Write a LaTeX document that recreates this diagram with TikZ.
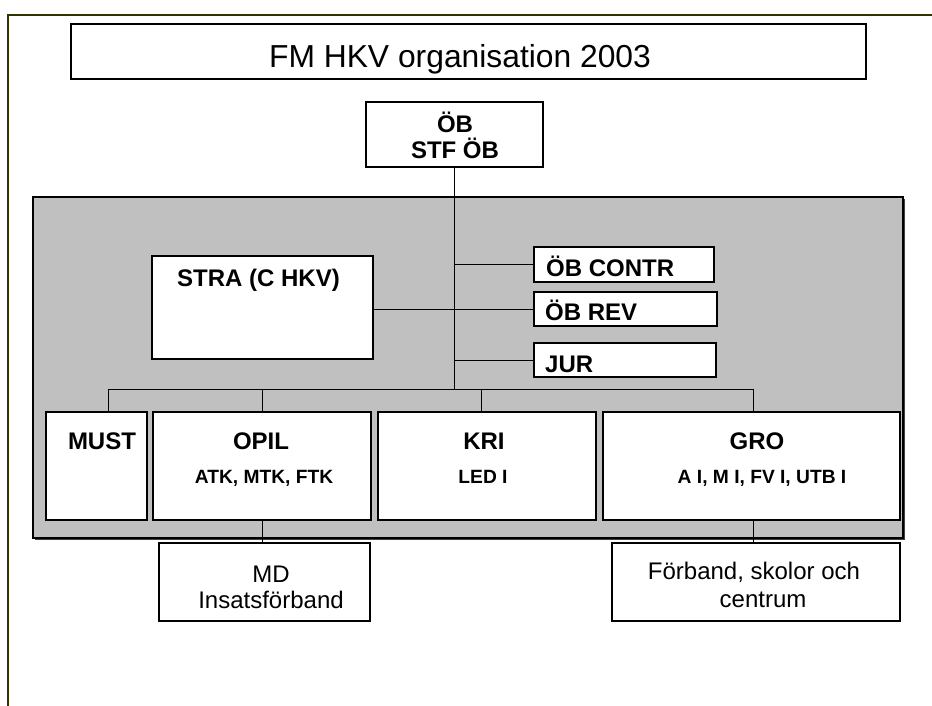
\documentclass[tikz,border=0pt]{standalone}
\usepackage{fontspec}
\setmainfont{Liberation Sans}
\usetikzlibrary{shadows}
\definecolor{framecol}{RGB}{51,51,0}
\definecolor{panelgray}{RGB}{192,192,192}
\definecolor{shadowgray}{RGB}{110,110,110}
\begin{document}
\begin{tikzpicture}[x=1pt,y=-1pt,
  wbox/.style={draw=black, line width=1.1pt, fill=white, rectangle, inner sep=0pt, outer sep=0pt, anchor=north west,
     drop shadow={shadow xshift=1.2pt, shadow yshift=-1.2pt, fill=shadowgray, opacity=1}},
  lbl/.style={inner sep=0pt, font=\fontsize{24}{28}\selectfont\bfseries},
  sublbl/.style={inner sep=0pt, font=\fontsize{19.2}{23}\selectfont\bfseries},
  reg/.style={inner sep=0pt, font=\fontsize{24}{28}\selectfont},
  conn/.style={draw=black, line width=0.9pt}]
\useasboundingbox (0,0) rectangle (932,706);
\fill[white] (0,0) rectangle (932,706);
% outer frame
\draw[framecol, line width=2pt] (8,706) -- (8,15) -- (932,15);
% title
\node[wbox, minimum width=795pt, minimum height=55pt] (title) at (71,24) {};
\node[inner sep=0pt, font=\fontsize{31.8}{36}\selectfont, anchor=base] (titletext) at (460,68) {FM HKV organisation 2003};
% OB box
\node[wbox, minimum width=177pt, minimum height=65pt] (ob) at (366,102) {};
\node[lbl, anchor=base] (obt1) at (455,133) {ÖB};
\node[lbl, anchor=base] (obt2) at (455,159) {STF ÖB};
% grey panel
\node[draw=black, line width=2.5pt, fill=panelgray, rectangle, inner sep=0pt, outer sep=0pt, anchor=north west,
      minimum width=870pt, minimum height=341pt,
      drop shadow={shadow xshift=2pt, shadow yshift=-2pt, fill=black!75, opacity=1}] (panel) at (33,197) {};
% boxes in panel
\node[wbox, minimum width=221pt, minimum height=103pt] (stra) at (152,256) {};
\node[lbl, anchor=base west] (stratext) at (177,286) {STRA (C HKV)};
\node[wbox, minimum width=180pt, minimum height=35pt] (obc) at (534,247) {};
\node[lbl, anchor=base west] (obctext) at (546,276) {ÖB CONTR};
\node[wbox, minimum width=183pt, minimum height=34pt] (obrev) at (534,292) {};
\node[lbl, anchor=base west] (obrevtext) at (545,320) {ÖB REV};
\node[wbox, minimum width=182pt, minimum height=34pt] (jur) at (534,343) {};
\node[lbl, anchor=base west] (jurtext) at (545,372) {JUR};
\node[wbox, minimum width=101pt, minimum height=108pt] (must) at (46,412) {};
\node[lbl, anchor=base] (musttext) at (102,449) {MUST};
\node[wbox, minimum width=218pt, minimum height=108pt] (opil) at (153,412) {};
\node[lbl, anchor=base] (opiltext) at (261,449) {OPIL};
\node[sublbl, anchor=base] (opilsub) at (264,483) {ATK, MTK, FTK};
\node[wbox, minimum width=218pt, minimum height=108pt] (kri) at (378,412) {};
\node[lbl, anchor=base] (kritext) at (484,449) {KRI};
\node[sublbl, anchor=base] (krisub) at (483,483) {LED I};
\node[wbox, minimum width=297pt, minimum height=108pt] (gro) at (603,412) {};
\node[lbl, anchor=base] (grotext) at (757,449) {GRO};
\node[sublbl, anchor=base] (grosub) at (762,483) {A I, M I, FV I, UTB I};
% lower boxes
\node[wbox, minimum width=211pt, minimum height=78pt] (md) at (159,543) {};
\node[reg, anchor=base] (mdt1) at (271,582) {MD};
\node[reg, anchor=base] (mdt2) at (271,608) {Insatsförband};
\node[wbox, minimum width=288pt, minimum height=78pt] (forb) at (612,543) {};
\node[reg, anchor=base] (forbt1) at (754,579) {Förband, skolor och};
\node[reg, anchor=base] (forbt2) at (763,607) {centrum};
% connectors
\coordinate (busL) at (108,389);
\coordinate (busR) at (753,389);
\coordinate (spine) at (455,389);
\draw[conn] (ob.south) -- (ob.south |- spine);
\draw[conn] (busL) -- (busR);
\draw[conn] (busL) -- (busL |- must.north);
\draw[conn] (opil.north |- busL) -- (opil.north);
\draw[conn] (481,389) coordinate (kridrop) -- (kridrop |- kri.north);
\draw[conn] (busR) -- (busR |- gro.north);
\draw[conn] (ob.south |- obc.west) -- (obc.west);
\draw[conn] (ob.south |- jur.west) -- (jur.west);
\draw[conn] (stra.east |- obrev.west) -- (obrev.west);
\draw[conn] (opil.south) -- (opil.south |- md.north);
\draw[conn] (busR |- gro.south) -- (busR |- forb.north);
\end{tikzpicture}
\end{document}
